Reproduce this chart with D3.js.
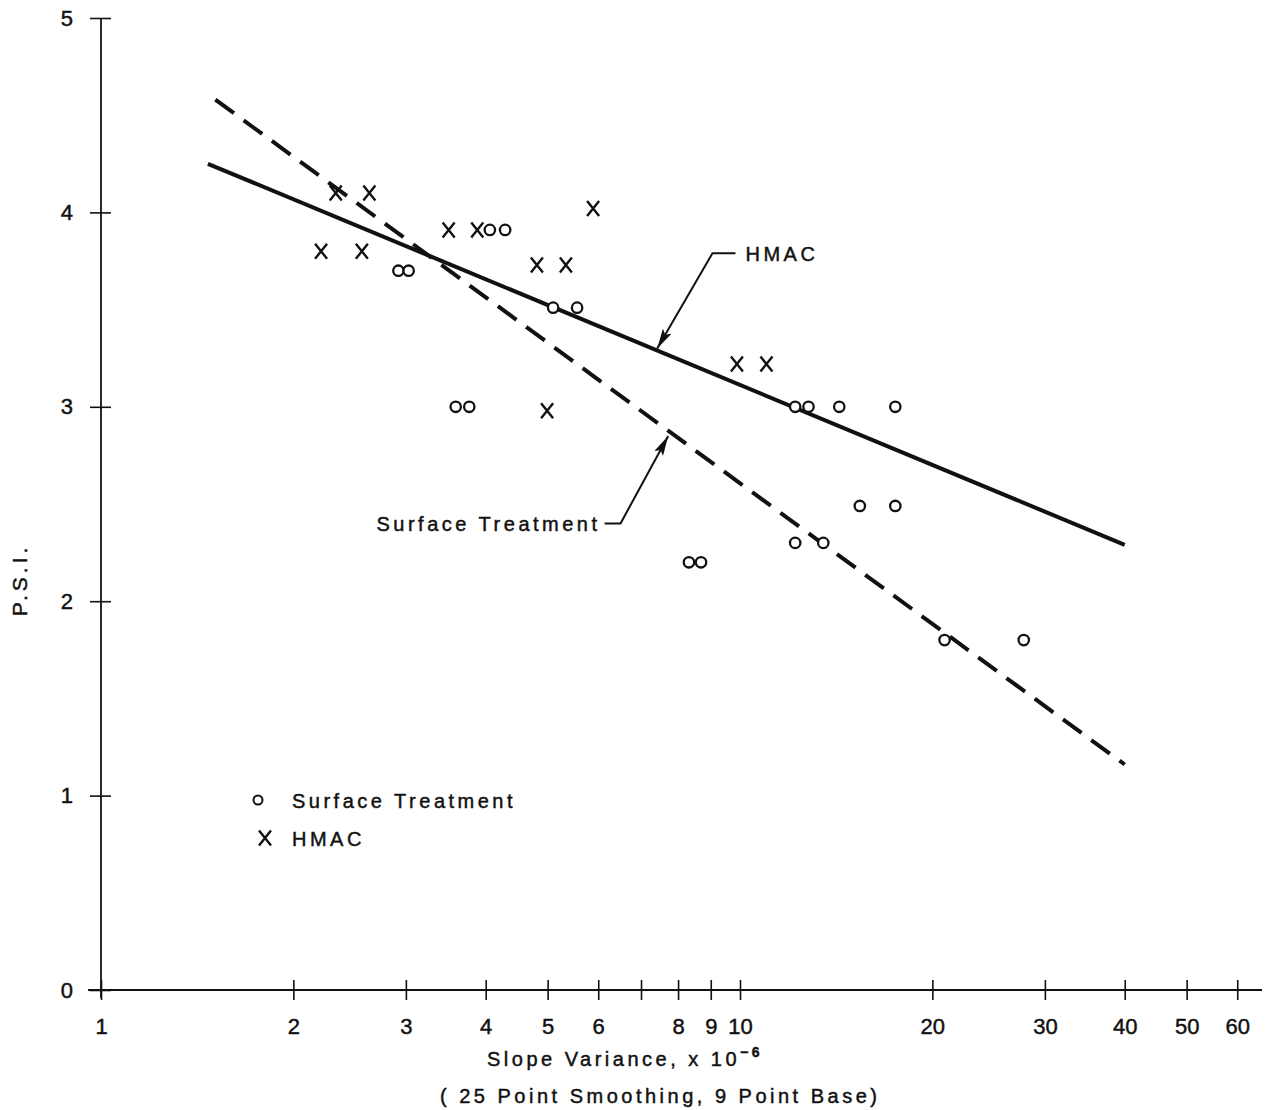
<!DOCTYPE html>
<html><head><meta charset="utf-8">
<script src="https://cdn.jsdelivr.net/npm/d3@7"></script>
<style>
body{margin:0;background:#fff}
text{font-family:'Liberation Sans',Arial,sans-serif;fill:#111;stroke:#111;stroke-width:0.45px}
</style>
</head><body><svg id="chart" width="1273" height="1110"></svg>
<script>
// HMAC sections (X markers)
const hmacX = [2.21, 2.33, 2.56, 2.63, 3.50, 3.88, 4.81, 5.34, 5.89, 4.99, 9.89, 11.0];
const hmacY = [3.80, 4.10, 3.80, 4.10, 3.91, 3.91, 3.73, 3.73, 4.02, 2.98, 3.22, 3.22];
// Surface treatment sections (o markers)
const surfX = [2.92, 3.03, 4.06, 4.29, 3.59, 3.77, 5.10, 5.56, 12.2, 12.8, 14.3, 17.5, 15.4, 17.5, 12.2, 13.5, 8.32, 8.69, 20.9, 27.8];
const surfY = [3.70, 3.70, 3.91, 3.91, 3.00, 3.00, 3.51, 3.51, 3.00, 3.00, 3.00, 3.00, 2.49, 2.49, 2.30, 2.30, 2.20, 2.20, 1.80, 1.80];
// Regression lines (end points)
const hmacFitX = [1.47, 40], hmacFitY = [4.25, 2.29];
const surfFitX = [1.51, 40], surfFitY = [4.58, 1.16];
// Axis ticks
const xTicks = [1, 2, 3, 4, 5, 6, 7, 8, 9, 10, 20, 30, 40, 50, 60];
const xTickLabels = ["1", "2", "3", "4", "5", "6", "", "8", "9", "10", "20", "30", "40", "50", "60"];
const yTicks = [0, 1, 2, 3, 4, 5];
const yTickLabels = ["0", "1", "2", "3", "4", "5"];

const svg = d3.select("#chart");
const x = d3.scaleLog().domain([1, 65.6]).range([101, 1262]);
const y = d3.scaleLinear().domain([0, 5]).range([990, 18]);

const ink = "#111";
const spacing = "3.5px";
const font = "'Liberation Sans',Arial,sans-serif";

// axes
const xAxis = svg.append("g").attr("transform", `translate(0,${y(0)})`)
  .call(d3.axisBottom(x).tickValues(xTicks).tickFormat((d, i) => xTickLabels[i]).tickSizeOuter(0).tickPadding(22));
xAxis.select(".domain").remove();
xAxis.selectAll(".tick line").attr("y1", -10).attr("y2", 10).attr("stroke", ink).attr("stroke-width", 1.6);
xAxis.selectAll(".tick text").attr("font-size", 22).attr("fill", ink).style("font-family", font);
svg.append("line").attr("x1", 88).attr("x2", x.range()[1]).attr("y1", y(0)).attr("y2", y(0))
  .attr("stroke", ink).attr("stroke-width", 1.8);

const yAxis = svg.append("g").attr("transform", `translate(${x(1)},0)`)
  .call(d3.axisLeft(y).tickValues(yTicks).tickFormat((d, i) => yTickLabels[i]).tickSizeOuter(0).tickPadding(22));
yAxis.select(".domain").remove();
yAxis.selectAll(".tick line").attr("x1", -11).attr("x2", 10).attr("stroke", ink).attr("stroke-width", 1.6);
yAxis.selectAll(".tick text").attr("font-size", 22).attr("fill", ink).style("font-family", font);
svg.append("line").attr("x1", x(1)).attr("x2", x(1)).attr("y1", y(5)).attr("y2", y(0) + 8)
  .attr("stroke", ink).attr("stroke-width", 1.8);

// regression lines
const line = d3.line().x(d => x(d[0])).y(d => y(d[1]));
svg.append("path").attr("d", line(d3.zip(hmacFitX, hmacFitY)))
  .attr("fill", "none").attr("stroke", ink).attr("stroke-width", 4);
svg.append("path").attr("d", line(d3.zip(surfFitX, surfFitY)))
  .attr("fill", "none").attr("stroke", ink).attr("stroke-width", 4).attr("stroke-dasharray", "23 12");

// markers
function drawX(g, cx, cy, h) {
  const w = h * 0.8;
  g.append("path")
    .attr("d", `M${cx - w / 2},${cy - h / 2}L${cx + w / 2},${cy + h / 2}M${cx + w / 2},${cy - h / 2}L${cx - w / 2},${cy + h / 2}`)
    .attr("stroke", ink).attr("stroke-width", 2.4).attr("fill", "none");
}
const pts = svg.append("g");
d3.zip(surfX, surfY).forEach(([a, b]) => {
  pts.append("circle").attr("cx", x(a)).attr("cy", y(b)).attr("r", 5.2)
    .attr("fill", "#fff").attr("stroke", ink).attr("stroke-width", 2.3);
});
d3.zip(hmacX, hmacY).forEach(([a, b]) => drawX(pts, x(a), y(b), 15));

// annotation callouts with arrows
svg.append("defs").append("marker").attr("id", "arrow")
  .attr("viewBox", "0 0 20 10").attr("refX", 20).attr("refY", 5)
  .attr("markerWidth", 20).attr("markerHeight", 10).attr("markerUnits", "userSpaceOnUse")
  .attr("orient", "auto")
  .append("path").attr("d", "M0,0L20,5L0,10L4,5Z").attr("fill", ink);

const notes = [
  { text: "HMAC", tip: [7.42, 3.30], label: [10.2, 3.79], anchor: "start" },
  { text: "Surface Treatment", tip: [7.72, 2.85], label: [6.05, 2.40], anchor: "end" }
];
notes.forEach(n => {
  const [sx, sy] = [x(n.label[0]), y(n.label[1])];
  const from = n.anchor === "start" ? sx - 10 : sx + 4;
  const elbowX = n.anchor === "start" ? sx - 33 : sx + 20;
  svg.append("path")
    .attr("d", `M${from},${sy}L${elbowX},${sy}L${x(n.tip[0])},${y(n.tip[1])}`)
    .attr("fill", "none").attr("stroke", ink).attr("stroke-width", 2).attr("marker-end", "url(#arrow)");
  svg.append("text").attr("x", sx).attr("y", sy + 8).attr("text-anchor", n.anchor)
    .attr("font-size", 20).style("letter-spacing", spacing).text(n.text);
});

// legend
const leg = svg.append("g");
leg.append("circle").attr("cx", 258).attr("cy", 800).attr("r", 4.5)
  .attr("fill", "#fff").attr("stroke", ink).attr("stroke-width", 2);
leg.append("text").attr("x", 292).attr("y", 808).attr("font-size", 20).style("letter-spacing", spacing).text("Surface Treatment");
drawX(leg, 265, 838, 15);
leg.append("text").attr("x", 292).attr("y", 846).attr("font-size", 20).style("letter-spacing", spacing).text("HMAC");

// axis titles
svg.append("text").attr("transform", "translate(27,580) rotate(-90)").attr("text-anchor", "middle")
  .attr("font-size", 21).style("letter-spacing", "4px").text("P.S.I.");
const t1 = svg.append("text").attr("x", 487).attr("y", 1066).attr("font-size", 20).style("letter-spacing", spacing);
t1.append("tspan").text("Slope Variance,  x 10");
t1.append("tspan").attr("dy", -9).attr("font-size", 14).attr("font-weight", "bold").text("−6");
svg.append("text").attr("x", 440).attr("y", 1103).attr("font-size", 20).style("letter-spacing", spacing)
  .text("( 25 Point Smoothing,  9 Point Base)");
</script>
</body></html>
